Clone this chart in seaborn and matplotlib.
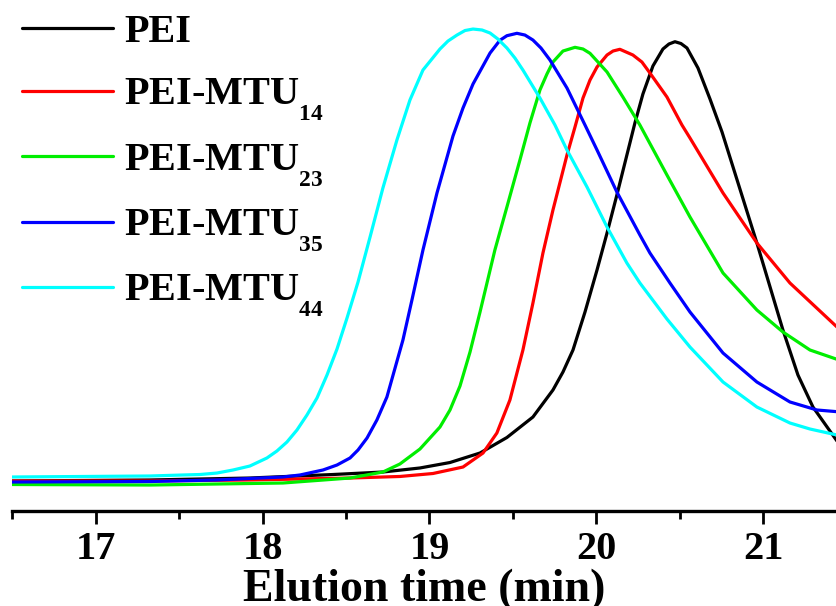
import matplotlib
matplotlib.use("Agg")
import matplotlib.pyplot as plt
from matplotlib.ticker import MultipleLocator
from matplotlib.offsetbox import VPacker, DrawingArea
import seaborn as sns
import pandas as pd

# smaller, lower subscripts (as in the reference legend)
try:
    import matplotlib._mathtext as _mt
    _mt.SHRINK_FACTOR = 0.58
    _mt.FontConstantsBase.sub1 = 0.85
    _mt.FontConstantsBase.subdrop = 0.85
except Exception:
    pass

# ---- data ----
series_names = ["PEI", r"PEI-MTU$_{14}$", r"PEI-MTU$_{23}$", r"PEI-MTU$_{35}$", r"PEI-MTU$_{44}$"]
series_colors = ["#000000", "#ff0000", "#00ee00", "#0000ff", "#00ffff"]

pei_t = [16.497, 17.325, 17.924, 18.422, 18.721, 18.943, 19.123, 19.303, 19.464, 19.620,
         19.740, 19.800, 19.860, 19.932, 20.004, 20.064, 20.123, 20.171, 20.231, 20.279,
         20.339, 20.399, 20.435, 20.471, 20.507, 20.543, 20.609, 20.681, 20.753, 20.819,
         20.962, 21.118, 21.208, 21.298, 21.442]
pei_v = [6.19, 6.40, 6.81, 7.54, 8.06, 8.90, 10.04, 12.02, 15.25, 19.52,
         25.15, 28.90, 33.48, 41.40, 50.15, 57.85, 65.77, 72.44, 80.77, 86.81,
         92.65, 96.19, 97.23, 97.71, 97.33, 96.40, 92.23, 85.77, 78.90, 71.60,
         55.77, 37.65, 28.27, 21.60, 14.52]

m14_t = [16.497, 17.325, 17.924, 18.524, 18.823, 19.021, 19.201, 19.321, 19.404, 19.482,
         19.560, 19.620, 19.680, 19.740, 19.824, 19.872, 19.920, 19.962, 20.004, 20.064,
         20.100, 20.141, 20.219, 20.273, 20.321, 20.423, 20.513, 20.561, 20.759, 20.962,
         21.160, 21.442]
m14_v = [6.19, 6.19, 6.40, 6.81, 7.13, 7.75, 9.10, 12.02, 16.19, 23.06,
         33.48, 43.27, 53.69, 62.65, 74.10, 79.94, 85.98, 89.73, 92.44, 94.94,
         95.77, 96.13, 94.94, 93.48, 91.19, 86.19, 80.35, 77.65, 66.19, 55.77,
         47.44, 38.27]

m23_t = [16.497, 17.325, 18.122, 18.524, 18.721, 18.823, 18.943, 19.063, 19.123, 19.183,
         19.243, 19.303, 19.392, 19.464, 19.542, 19.602, 19.662, 19.704, 19.740, 19.800,
         19.872, 19.920, 19.962, 20.064, 20.159, 20.261, 20.423, 20.561, 20.759, 20.962,
         21.118, 21.280, 21.442]
m23_v = [5.46, 5.35, 5.77, 6.81, 8.06, 9.73, 12.85, 17.44, 20.98, 25.98,
         33.06, 41.40, 54.31, 63.27, 73.06, 80.77, 87.65, 90.98, 93.48, 95.77,
         96.54, 96.19, 95.29, 91.40, 86.19, 80.35, 69.94, 61.19, 49.52, 41.81,
         37.23, 33.48, 31.54]

m35_t = [16.497, 17.325, 17.727, 18.122, 18.224, 18.362, 18.446, 18.524, 18.572, 18.626,
         18.685, 18.745, 18.841, 18.895, 18.961, 19.045, 19.141, 19.201, 19.261, 19.363,
         19.422, 19.464, 19.524, 19.572, 19.620, 19.668, 19.722, 19.824, 19.932, 20.004,
         20.123, 20.261, 20.321, 20.441, 20.561, 20.759, 20.962, 21.160, 21.322, 21.442]
m35_v = [5.98, 6.08, 6.40, 7.02, 7.44, 8.48, 9.52, 10.98, 12.65, 15.15,
         18.90, 23.69, 35.56, 43.90, 54.31, 66.19, 78.06, 83.90, 88.90, 95.35,
         98.00, 98.96, 99.46, 99.10, 98.06, 96.40, 93.90, 88.06, 80.35, 75.15,
         66.40, 57.44, 53.69, 47.44, 41.40, 32.85, 26.81, 22.65, 20.98, 20.63]

m44_t = [16.497, 17.325, 17.523, 17.625, 17.727, 17.823, 17.924, 18.026, 18.086, 18.146,
         18.206, 18.266, 18.326, 18.386, 18.446, 18.506, 18.572, 18.644, 18.721, 18.805,
         18.883, 18.961, 19.063, 19.111, 19.165, 19.213, 19.261, 19.315, 19.363, 19.410,
         19.464, 19.512, 19.560, 19.662, 19.752, 19.824, 19.944, 20.064, 20.183, 20.261,
         20.423, 20.561, 20.759, 20.962, 21.160, 21.280, 21.442]
m44_v = [7.02, 7.23, 7.44, 7.54, 7.85, 8.48, 9.31, 10.98, 12.44, 14.31,
         16.81, 19.94, 23.48, 28.27, 33.69, 40.15, 47.65, 57.02, 67.23, 77.23,
         85.56, 91.81, 96.19, 97.85, 99.10, 100.04, 100.35, 100.15, 99.52, 98.27,
         96.40, 94.31, 91.81, 85.98, 80.35, 75.15, 67.44, 59.10, 51.60, 47.44,
         39.94, 34.10, 26.81, 21.60, 18.27, 17.02, 15.77]

x_ticks = [17, 18, 19, 20, 21]
x_label = "Elution time (min)"

# ---- build long-form table ----
frames = []
for name, t, v in zip(series_names,
                      [pei_t, m14_t, m23_t, m35_t, m44_t],
                      [pei_v, m14_v, m23_v, m35_v, m44_v]):
    frames.append(pd.DataFrame({"time": t, "signal": v, "sample": name}))
df = pd.concat(frames, ignore_index=True)

# ---- style ----
sns.set_style("white")
plt.rcParams["font.family"] = ["Liberation Serif", "DejaVu Serif"]
plt.rcParams["font.weight"] = "bold"
plt.rcParams["text.color"] = "black"
plt.rcParams["axes.labelcolor"] = "black"
plt.rcParams["xtick.color"] = "black"
plt.rcParams["mathtext.fontset"] = "custom"
plt.rcParams["mathtext.rm"] = "Liberation Serif:bold"
plt.rcParams["mathtext.bf"] = "Liberation Serif:bold"
plt.rcParams["mathtext.default"] = "regular"

fig = plt.figure(figsize=(8.37, 6.06), dpi=100)
ax = fig.add_axes([12.25 / 837, (606 - 510.7) / 606, 1 - 12.25 / 837, 510.7 / 606])

sns.lineplot(data=df, x="time", y="signal", hue="sample",
             hue_order=series_names,
             palette=dict(zip(series_names, series_colors)),
             estimator=None, sort=True, linewidth=2.3, ax=ax, legend=True)

ax.set_xlim(16.5, 21.442)
ax.set_ylim(0, 106.4)
ax.set_xticks(x_ticks)
ax.set_xticklabels([str(t) for t in x_ticks])
ax.xaxis.set_minor_locator(MultipleLocator(0.5))
ax.set_yticks([])
ax.set_ylabel("")
ax.set_xlabel(x_label, fontsize=33, fontweight="bold", labelpad=0.5, color="black")

for side in ["left", "right", "top"]:
    ax.spines[side].set_visible(False)
ax.spines["bottom"].set_linewidth(2.4)
ax.spines["bottom"].set_color("black")

ax.tick_params(axis="x", which="major", direction="out", length=9.4, width=2.0,
               pad=5.5, labelsize=29, colors="black", bottom=True)
ax.tick_params(axis="x", which="minor", direction="out", length=5.8, width=2.0,
               colors="black", bottom=True)
for lbl in ax.get_xticklabels():
    lbl.set_fontweight("bold")
    lbl.set_color("black")

handles, labels = ax.get_legend_handles_labels()
leg = ax.legend(handles, labels, loc="upper left",
                bbox_to_anchor=(22 / 837, 1 - 14 / 606), bbox_transform=fig.transFigure,
                frameon=False, prop={"family": "Liberation Serif", "weight": "bold", "size": 29},
                handlelength=2.26, handletextpad=0.27, borderaxespad=0, borderpad=0,
                labelspacing=0.47)
for line in leg.get_lines():
    line.set_linewidth(2.3)
for txt in leg.get_texts():
    txt.set_color("black")

# give the first row (no subscript) the same depth as the subscripted rows
try:
    column = leg._legend_handle_box.get_children()[0]
    rows = column.get_children()
    spacer = DrawingArea(1, 5.0)
    padded = VPacker(children=[rows[0], spacer], pad=0, sep=0, align="left")
    padded.set_figure(fig)
    rows[0] = padded
except Exception:
    pass

fig.savefig("out.png", dpi=100)
